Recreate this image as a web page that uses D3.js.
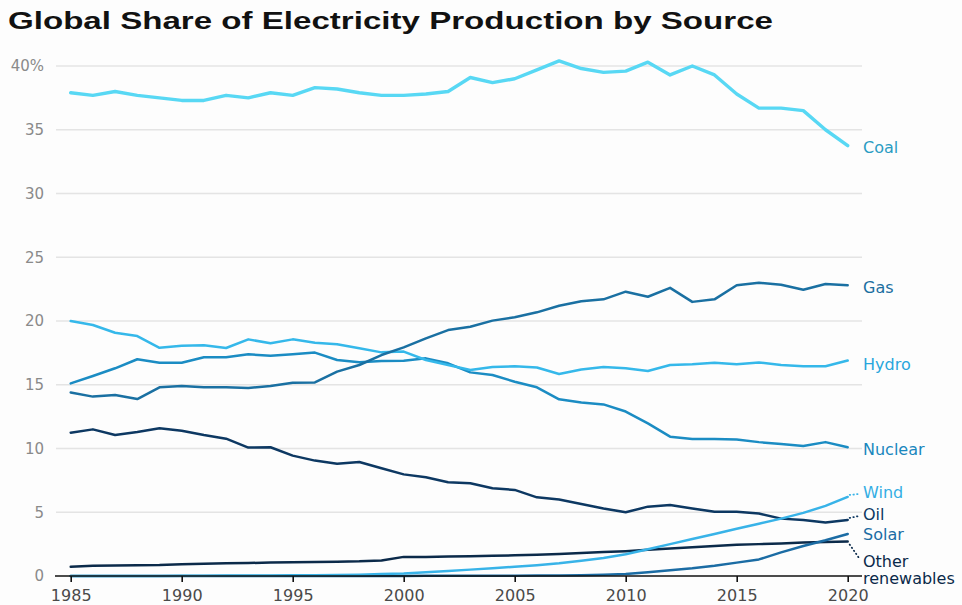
<!DOCTYPE html>
<html>
<head>
<meta charset="utf-8">
<script src="https://cdn.jsdelivr.net/npm/d3@7/dist/d3.min.js"></script>
<style>
  html, body { margin: 0; padding: 0; background: #fdfdfd; }
  svg { display: block; }
</style>
</head>
<body>
<svg id="chart" width="962" height="605"></svg>
<script>
// ---------- DATA ----------
const years = [1985,1986,1987,1988,1989,1990,1991,1992,1993,1994,1995,1996,1997,1998,1999,2000,2001,2002,2003,2004,2005,2006,2007,2008,2009,2010,2011,2012,2013,2014,2015,2016,2017,2018,2019,2020];

const coal = [37.9,37.7,38.0,37.7,37.5,37.3,37.3,37.7,37.5,37.9,37.7,38.3,38.2,37.9,37.7,37.7,37.8,38.0,39.1,38.7,39.0,39.7,40.4,39.8,39.5,39.6,40.3,39.3,40.0,39.3,37.8,36.7,36.7,36.5,35.0,33.75];
const gas = [14.4,14.07,14.2,13.88,14.8,14.9,14.8,14.8,14.75,14.9,15.16,15.18,16.03,16.55,17.33,17.93,18.64,19.29,19.55,20.03,20.29,20.68,21.2,21.55,21.7,22.3,21.9,22.6,21.5,21.7,22.8,23.0,22.85,22.45,22.9,22.8];
const hydro = [20.0,19.69,19.08,18.82,17.9,18.06,18.1,17.88,18.56,18.25,18.56,18.3,18.17,17.86,17.54,17.6,16.94,16.55,16.16,16.4,16.45,16.35,15.84,16.2,16.4,16.3,16.08,16.55,16.6,16.73,16.6,16.75,16.55,16.45,16.45,16.9];
const nuclear = [15.11,15.69,16.29,17.0,16.73,16.73,17.15,17.15,17.39,17.28,17.39,17.52,16.94,16.76,16.86,16.88,17.07,16.68,15.97,15.76,15.24,14.8,13.86,13.6,13.46,12.9,11.97,10.93,10.75,10.75,10.7,10.5,10.35,10.2,10.5,10.1];
const wind = [0,0,0,0,0,0.02,0.02,0.03,0.03,0.04,0.05,0.06,0.08,0.1,0.15,0.2,0.3,0.4,0.5,0.6,0.73,0.85,1.0,1.2,1.42,1.7,2.1,2.5,2.9,3.3,3.7,4.1,4.5,4.95,5.5,6.2];
const oil = [11.24,11.5,11.06,11.3,11.58,11.4,11.06,10.77,10.07,10.1,9.44,9.05,8.81,8.94,8.45,7.97,7.74,7.35,7.27,6.88,6.75,6.17,6.0,5.65,5.3,5.0,5.44,5.57,5.3,5.04,5.04,4.9,4.5,4.4,4.2,4.4];
const solar = [0,0,0,0,0,0,0,0,0,0,0,0,0,0,0,0,0.01,0.01,0.01,0.02,0.02,0.03,0.04,0.06,0.1,0.15,0.3,0.45,0.6,0.8,1.05,1.3,1.85,2.35,2.8,3.3];
const otherRenewables = [0.73,0.8,0.82,0.84,0.86,0.93,0.96,1.0,1.02,1.05,1.08,1.1,1.12,1.15,1.22,1.5,1.5,1.52,1.55,1.58,1.62,1.66,1.72,1.8,1.88,1.95,2.05,2.15,2.25,2.35,2.45,2.5,2.55,2.62,2.67,2.7];

const xTickValues = [1985,1990,1995,2000,2005,2010,2015,2020];
const yTickValues = [0,5,10,15,20,25,30,35,40];
const title = "Global Share of Electricity Production by Source";

// ---------- SERIES STYLE / LABEL LAYOUT ----------
const series = [
  {name:"Coal", values:coal, color:"#58d8f4", labelColor:"#2a9cc3", width:3.4, labelY:[147]},
  {name:"Gas", values:gas, color:"#1a70a2", labelColor:"#1b6fa0", width:2.5, labelY:[287]},
  {name:"Hydro", values:hydro, color:"#35b8ea", labelColor:"#28a6dc", width:2.5, labelY:[364.5]},
  {name:"Nuclear", values:nuclear, color:"#1b8cc3", labelColor:"#1a87be", width:2.5, labelY:[449.5]},
  {name:"Wind", values:wind, color:"#38b3e8", labelColor:"#33aee4", width:2.5, labelY:[492], leader:true},
  {name:"Oil", values:oil, color:"#0d3862", labelColor:"#0d3862", width:2.5, labelY:[514], leader:true},
  {name:"Solar", values:solar, color:"#1b6ca4", labelColor:"#1b6ca4", width:2.5, labelY:[534]},
  {name:"Other renewables", values:otherRenewables, color:"#0b2a4a", labelColor:"#0b2a4a", width:2.5, labelY:[561,578.5], lines:["Other","renewables"], leader:true}
];

// ---------- CHART ----------
const svg = d3.select("#chart");
const x = d3.scaleLinear().domain([1985, 2020]).range([70.7, 847.7]);
const y = d3.scaleLinear().domain([0, 40]).range([576, 66]);
const gridLeft = 56, gridRight = 862;

// Title
svg.append("text")
  .attr("x", 8).attr("y", 29)
  .attr("font-family", "'Liberation Sans', Arial, sans-serif")
  .attr("font-weight", "bold")
  .attr("font-size", 23)
  .attr("fill", "#111")
  .attr("textLength", 765)
  .attr("lengthAdjust", "spacingAndGlyphs")
  .text(title);

// Y grid + labels
const yAxis = d3.axisLeft(y)
  .tickValues(yTickValues)
  .tickSize(0)
  .tickPadding(0)
  .tickFormat(d => d === 40 ? "40%" : d);
const yg = svg.append("g").attr("transform", `translate(44,0)`).call(yAxis);
yg.select(".domain").remove();
yg.selectAll("text")
  .attr("font-family", "'DejaVu Sans', sans-serif")
  .attr("font-size", 15)
  .attr("fill", "#8a8a8a")
  .attr("x", 0);

svg.append("g").selectAll("line")
  .data(yTickValues.filter(d => d > 0))
  .join("line")
  .attr("x1", gridLeft).attr("x2", gridRight)
  .attr("y1", d => y(d)).attr("y2", d => y(d))
  .attr("stroke", "#e4e4e4").attr("stroke-width", 1.5);

// Lines
const line = d3.line()
  .x((d, i) => x(years[i]))
  .y(d => y(d));

const gLines = svg.append("g");
series.slice().reverse().forEach(s => {
  gLines.append("path")
    .datum(s.values)
    .attr("fill", "none")
    .attr("stroke", s.color)
    .attr("stroke-width", s.width)
    .attr("stroke-linejoin", "round")
    .attr("stroke-linecap", "round")
    .attr("d", line);
});

// X axis
svg.append("line")
  .attr("x1", gridLeft - 1).attr("x2", gridRight)
  .attr("y1", y(0)).attr("y2", y(0))
  .attr("stroke", "#111").attr("stroke-width", 1.6);

const xAxis = d3.axisBottom(x)
  .tickValues(xTickValues)
  .tickSize(6)
  .tickPadding(8)
  .tickFormat(d3.format("d"));
const xg = svg.append("g").attr("transform", `translate(0,${y(0)})`).call(xAxis);
xg.select(".domain").remove();
xg.selectAll(".tick line").attr("stroke", "#111").attr("stroke-width", 1.6);
xg.selectAll("text")
  .attr("font-family", "'DejaVu Sans', sans-serif")
  .attr("font-size", 16)
  .attr("fill", "#4a4a4a");

// Labels + leaders
const labelX = 863;
series.forEach(s => {
  const last = s.values[s.values.length - 1];
  const ex = x(years[years.length - 1]);
  const ey = y(last);
  if (s.leader) {
    const ty = s.lines ? s.labelY[0] - 3 : s.labelY[0] + (ey > s.labelY[0] ? 1 : -1) * 2;
    svg.append("line")
      .attr("x1", ex + 2).attr("y1", ey + (ty > ey ? 3 : -2))
      .attr("x2", labelX - 4).attr("y2", ty)
      .attr("stroke", s.color)
      .attr("stroke-width", 1.8)
      .attr("stroke-linecap", "round")
      .attr("stroke-dasharray", "0.5,3.2");
  }
  const lines = s.lines || [s.name];
  const t = svg.append("text")
    .attr("font-family", "'DejaVu Sans', sans-serif")
    .attr("font-size", 16)
    .attr("fill", s.labelColor);
  lines.forEach((ln, i) => {
    t.append("tspan")
      .attr("x", labelX)
      .attr("y", s.labelY[i])
      .attr("dy", "0.36em")
      .text(ln);
  });
});
</script>
</body>
</html>
